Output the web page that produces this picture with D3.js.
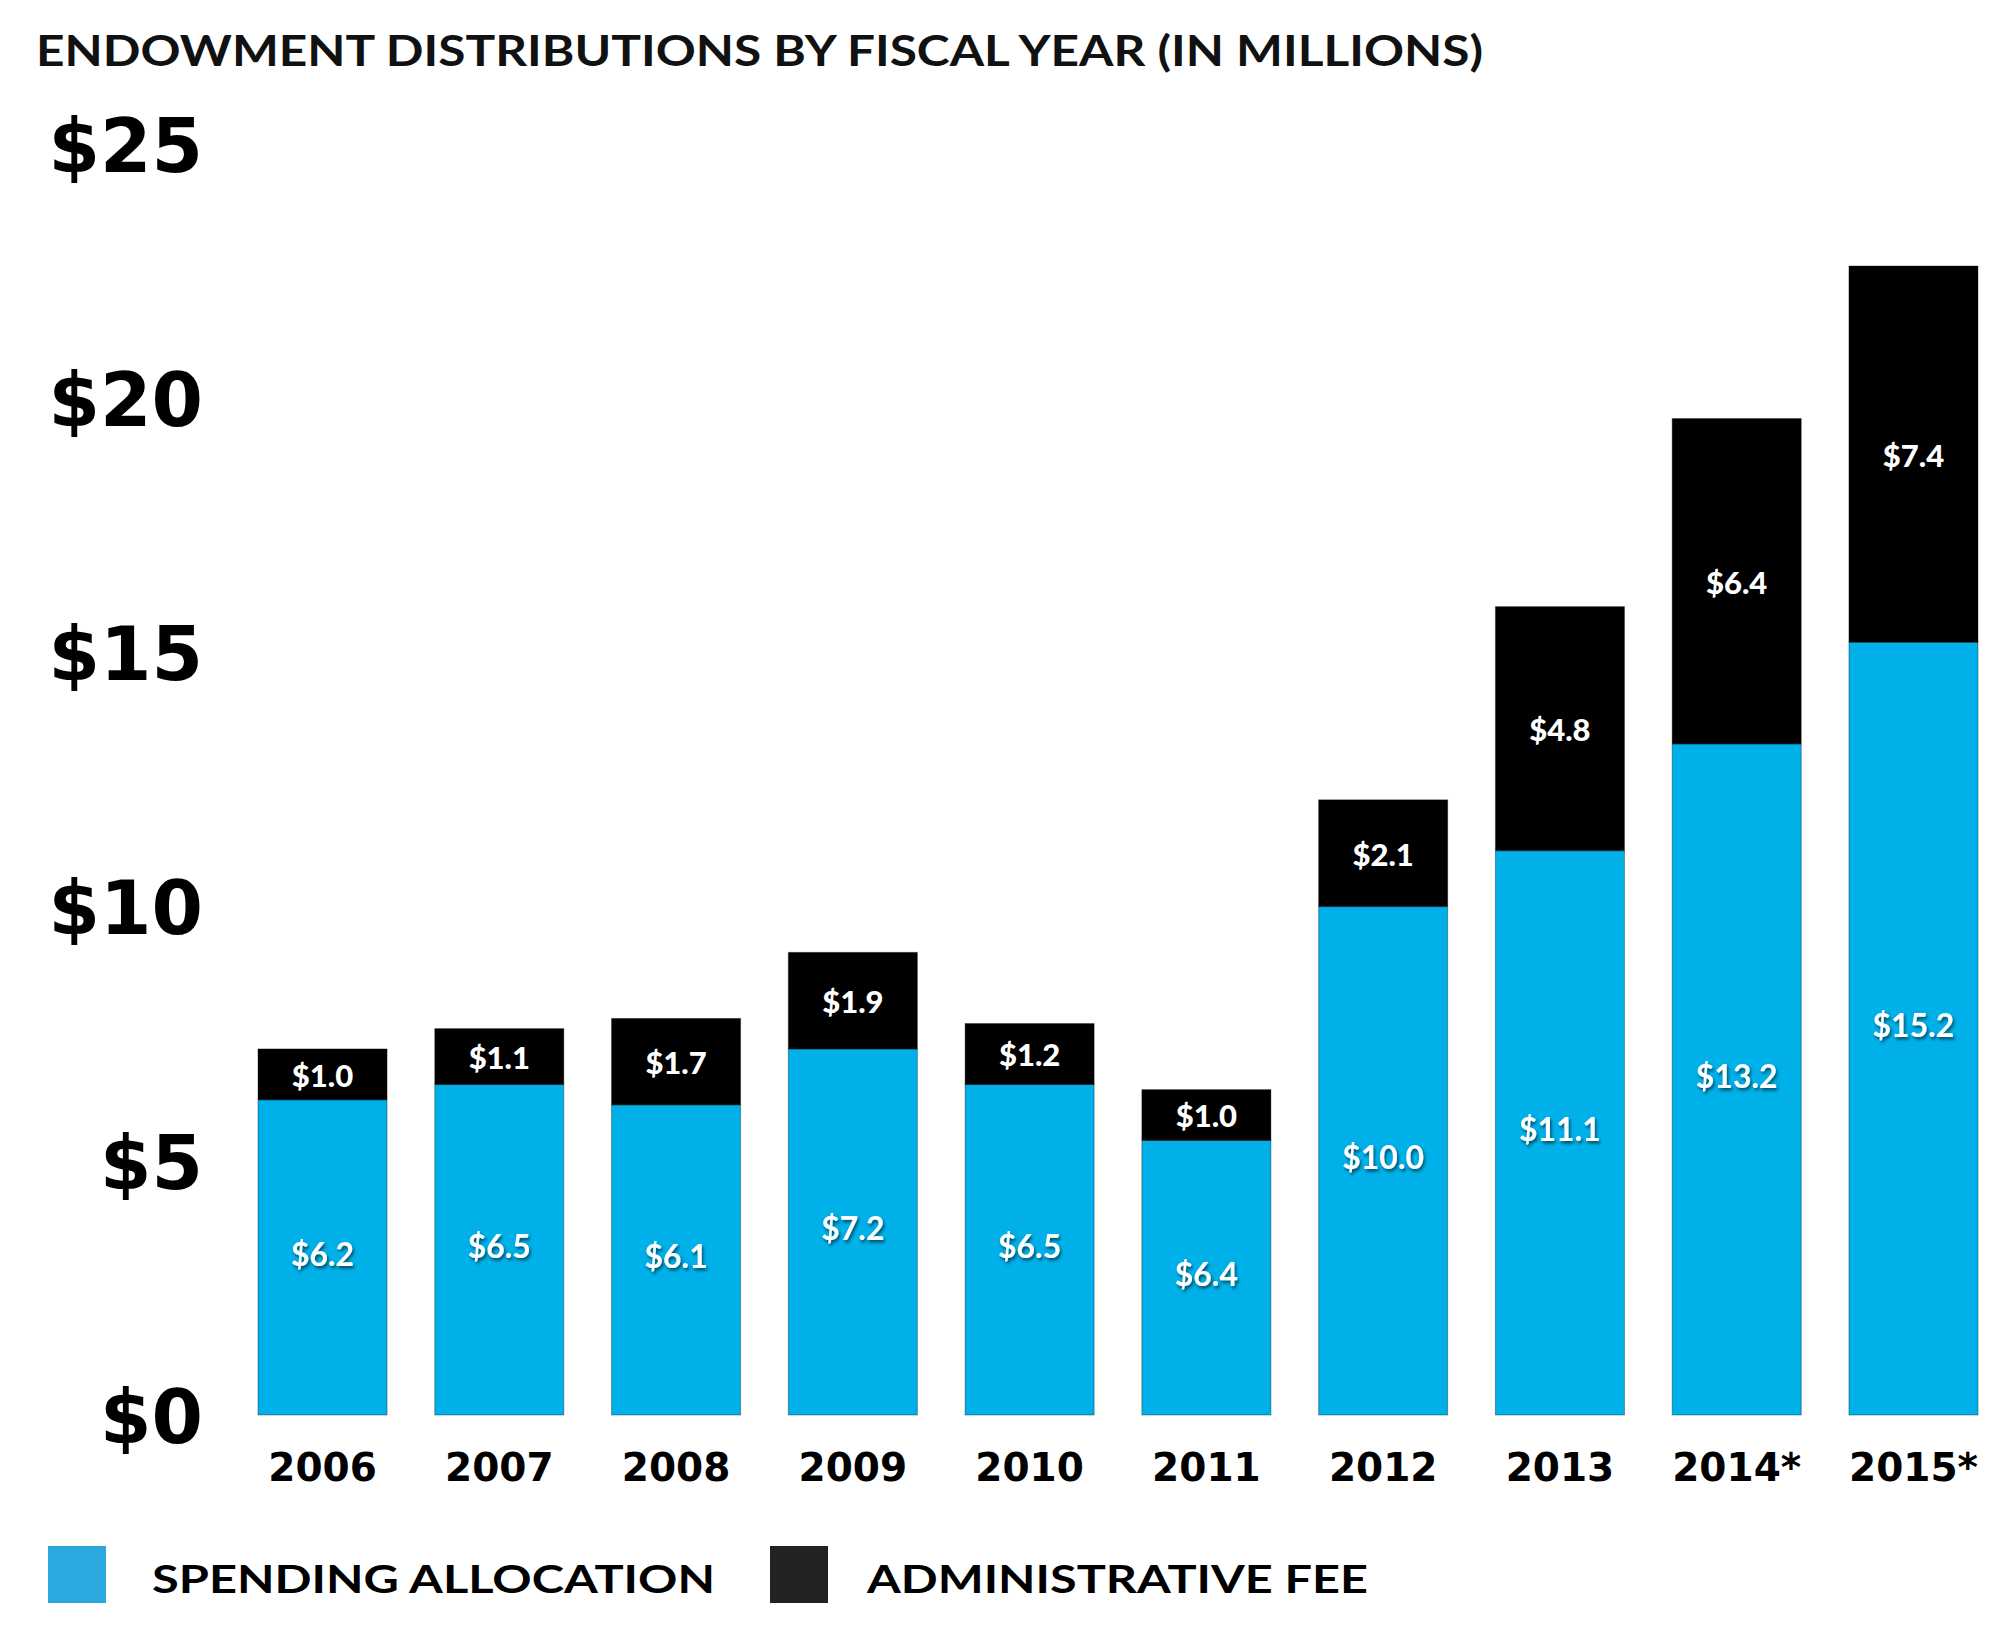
<!DOCTYPE html>
<html>
<head>
<meta charset="utf-8">
<script src="https://cdn.jsdelivr.net/npm/d3@7"></script>
<style>
  html, body { margin: 0; padding: 0; background: #fff; }
  svg { display: block; }
</style>
</head>
<body>
<script>
// ---- data ----
const years = ["2006", "2007", "2008", "2009", "2010", "2011", "2012", "2013", "2014*", "2015*"];
const spending = [6.2, 6.5, 6.1, 7.2, 6.5, 5.4, 10.0, 11.1, 13.2, 15.2];
const spendingLabels = ["$6.2", "$6.5", "$6.1", "$7.2", "$6.5", "$6.4", "$10.0", "$11.1", "$13.2", "$15.2"];
const adminFee = [1.0, 1.1, 1.7, 1.9, 1.2, 1.0, 2.1, 4.8, 6.4, 7.4];
const yTicks = [0, 5, 10, 15, 20, 25];
const seriesNames = ["SPENDING ALLOCATION", "ADMINISTRATIVE FEE"];
const titleText = "ENDOWMENT DISTRIBUTIONS BY FISCAL YEAR (IN MILLIONS)";

// ---- layout ----
const W = 2000, H = 1627;
const FONT = "Lato, 'Open Sans', 'DejaVu Sans', sans-serif";
const WIDE = "'DejaVu Sans', Lato, sans-serif";
const BLUE = "#00b0e9", BLACK = "#000000";
const LEG_BLUE = "#2ba9de", LEG_BLACK = "#222222";

const svg = d3.select("body").append("svg").attr("width", W).attr("height", H);

const defs = svg.append("defs");
const f = defs.append("filter").attr("id", "shadow").attr("x", "-20%").attr("y", "-40%").attr("width", "140%").attr("height", "180%");
f.append("feDropShadow").attr("dx", 1.5).attr("dy", 2.5).attr("stdDeviation", 1.6).attr("flood-color", "#000").attr("flood-opacity", 0.55);

const x = d3.scaleBand().domain(years).range([258, 1978]).paddingInner(0.27).paddingOuter(0);
const y = d3.scaleLinear().domain([0, 25]).range([1415, 144]);

const rows = years.map((yr, i) => ({ yr, s: spending[i], a: adminFee[i], sl: spendingLabels[i] }));

// title
svg.append("text")
  .attr("x", 36).attr("y", 66)
  .attr("font-family", FONT).attr("font-weight", 700).attr("font-size", 42)
  .attr("textLength", 1447).attr("lengthAdjust", "spacingAndGlyphs")
  .attr("fill", "#111")
  .text(titleText);

// y axis
const yAxis = d3.axisLeft(y).tickValues(yTicks).tickSize(0).tickPadding(0).tickFormat(d => "$" + d);
const gy = svg.append("g").attr("transform", "translate(203,0)").call(yAxis);
gy.select(".domain").remove();
gy.selectAll("text")
  .attr("font-family", WIDE).attr("font-weight", 700).attr("font-size", 74)
  .attr("fill", "#000").attr("dy", "0.37em");

// bars
const g = svg.append("g");
g.selectAll("rect.sp").data(rows).join("rect").attr("class", "sp")
  .attr("x", d => x(d.yr)).attr("width", x.bandwidth())
  .attr("y", d => y(d.s)).attr("height", d => y(0) - y(d.s))
  .attr("fill", BLUE).attr("stroke", "rgba(0,0,0,0.35)").attr("stroke-width", 1);
g.selectAll("rect.ad").data(rows).join("rect").attr("class", "ad")
  .attr("x", d => x(d.yr)).attr("width", x.bandwidth())
  .attr("y", d => y(d.s + d.a)).attr("height", d => y(d.s) - y(d.s + d.a))
  .attr("fill", BLACK).attr("stroke", "rgba(0,0,0,0.35)").attr("stroke-width", 1);

// admin fee labels
g.selectAll("text.al").data(rows).join("text").attr("class", "al")
  .attr("x", d => x(d.yr) + x.bandwidth() / 2)
  .attr("y", d => (y(d.s) + y(d.s + d.a)) / 2)
  .attr("dy", "0.4em").attr("text-anchor", "middle")
  .attr("font-family", FONT).attr("font-weight", 900).attr("font-size", 31)
  .attr("fill", "#fff")
  .text(d => "$" + d3.format(".1f")(d.a));

// spending labels
g.selectAll("text.sl").data(rows).join("text").attr("class", "sl")
  .attr("x", d => x(d.yr) + x.bandwidth() / 2)
  .attr("y", d => (y(0) + y(d.s)) / 2)
  .attr("dy", "0.26em").attr("text-anchor", "middle")
  .attr("font-family", FONT).attr("font-weight", 700).attr("font-size", 32)
  .attr("fill", "#fff").attr("filter", "url(#shadow)")
  .text(d => d.sl);

// x axis
const xAxis = d3.axisBottom(x).tickSize(0).tickPadding(0);
const gx = svg.append("g").attr("transform", "translate(0,1481)").call(xAxis);
gx.select(".domain").remove();
gx.selectAll("text")
  .attr("font-family", WIDE).attr("font-weight", 700).attr("font-size", 39)
  .attr("fill", "#000").attr("dy", 0).attr("y", 0);

// legend
const legend = [
  { name: seriesNames[0], color: LEG_BLUE, sx: 48, tx: 152, tw: 563 },
  { name: seriesNames[1], color: LEG_BLACK, sx: 770, tx: 867, tw: 501 }
];
const lg = svg.append("g");
lg.selectAll("rect").data(legend).join("rect")
  .attr("x", d => d.sx).attr("y", 1546).attr("width", 58).attr("height", 57)
  .attr("fill", d => d.color);
lg.selectAll("text").data(legend).join("text")
  .attr("x", d => d.tx).attr("y", 1593)
  .attr("font-family", FONT).attr("font-weight", 700).attr("font-size", 38)
  .attr("textLength", d => d.tw).attr("lengthAdjust", "spacingAndGlyphs")
  .attr("fill", "#000")
  .text(d => d.name);
</script>
</body>
</html>
